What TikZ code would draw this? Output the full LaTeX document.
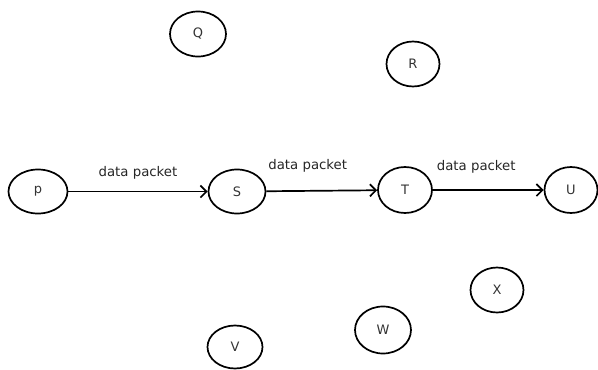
\documentclass[tikz,border=0pt]{standalone}
\usepackage{fontspec}
\setmainfont{DejaVu Sans}
\usetikzlibrary{shapes.geometric,arrows.meta}
\begin{document}
\begin{tikzpicture}[x=1pt,y=-1pt,
  st/.style={draw, ellipse, line width=1.7pt, inner sep=0pt, font=\fontsize{13}{15}\selectfont, text=black!80},
  conn/.style={line width=1.7pt, -{Straight Barb[length=6pt,width=12pt,line width=1.7pt]}},
  lbl/.style={font=\fontsize{13.3}{15}\selectfont, text=black!85, inner sep=0pt}]
\useasboundingbox (0,0) rectangle (598,370);
\node[st, minimum width=59pt, minimum height=44pt] (p) at (38,191.5) {p};
\node[st, minimum width=57pt, minimum height=44pt] (S) at (237,191.5) {S};
\node[st, minimum width=54pt, minimum height=46pt] (T) at (405,190) {T};
\node[st, minimum width=53pt, minimum height=46pt] (U) at (571,190) {U};
\node[st, minimum width=56pt, minimum height=45pt] (Q) at (198,34) {Q};
\node[st, minimum width=53pt, minimum height=45pt] (R) at (413,64) {R};
\node[st, minimum width=55pt, minimum height=43pt] (V) at (235,347) {V};
\node[st, minimum width=56pt, minimum height=47pt] (W) at (383,330) {W};
\node[st, minimum width=53pt, minimum height=45pt] (X) at (497,290) {X};
\draw[conn] (p) -- node[lbl, yshift=19pt] {data packet} (S);
\draw[conn] (S) -- node[lbl, yshift=25pt, xshift=-14pt] {data packet} (T);
\draw[conn] (T) -- node[lbl, yshift=23pt, xshift=-12pt] {data packet} (U);
\end{tikzpicture}
\end{document}
